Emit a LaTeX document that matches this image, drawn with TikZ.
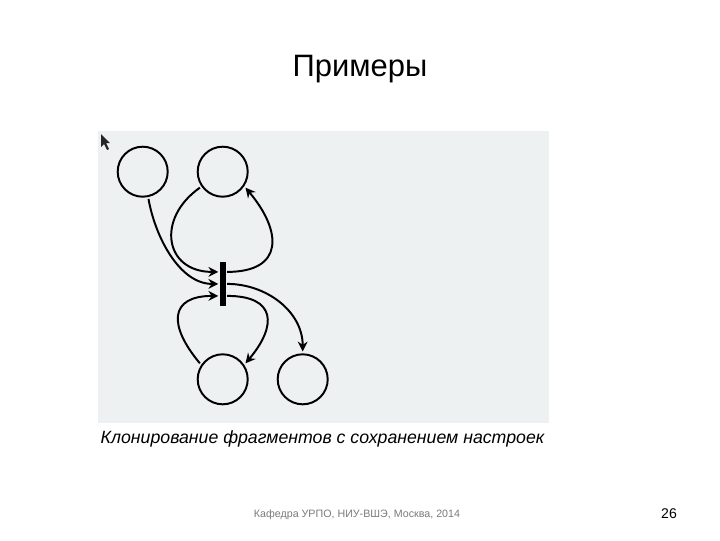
\documentclass[tikz,border=0pt]{standalone}
\usepackage{fontspec}
\setmainfont{Liberation Sans}
\usetikzlibrary{arrows.meta}
\definecolor{panelgray}{HTML}{EEF1F1}
\definecolor{footgray}{HTML}{7A7A7A}
\tikzset{
    place/.style={circle, draw, line width=1.4pt, minimum size=1.25cm, inner sep=0pt, outer sep=2pt},
    clonebar/.style={rectangle, fill=black, minimum width=0.15cm, minimum height=1.1cm, inner sep=0pt, outer sep=1pt},
    arc/.style={line width=1.4pt, -{Stealth[length=7pt, width=7pt]}}
}
\begin{document}
\begin{tikzpicture}[x=0.025cm, y=-0.025cm]
    % Fix the page to the slide size
    \useasboundingbox (0,0) rectangle (720,540);

    % Title
    \node (title) at (360,69) {\fontsize{22}{26}\selectfont Примеры};

    % Grey panel of the screenshot
    \fill[panelgray] (98,131) rectangle (549,423);

    % Mouse pointer in the corner
    \fill[black!85] (101,134) -- (101,147) -- (104,144) -- (107,150) -- (109,149) -- (106,143) -- (110,143) -- cycle;

    % Places and the clone bar
    \node[place] (topleft) at (142.7,171.7) {};
    \node[place] (topright) at (222.7,171.7) {};
    \node[place] (botleft) at (222.7,379.3) {};
    \node[place] (botright) at (302.7,379.3) {};
    \node[clonebar] (bar) at (222.7,283.9) {};

    % Ends on both sides of the bar
    \coordinate (inup) at ([yshift=0.3cm]bar.west);
    \coordinate (inlow) at ([yshift=-0.3cm]bar.west);
    \coordinate (outup) at ([yshift=0.3cm]bar.east);
    \coordinate (outlow) at ([yshift=-0.3cm]bar.east);

    % Arcs into the bar
    \draw[arc] (topleft.-78) to[out=-80, in=180, looseness=0.9] (bar.west);
    \draw[arc] (topright.215) to[out=215, in=180, looseness=1.6] (inup);
    \draw[arc] (botleft.145) to[out=130, in=180, looseness=1.8] (inlow);

    % Arcs out of the bar
    \draw[arc] (outup) to[out=0, in=-50, looseness=1.7] (topright.-35);
    \draw[arc] (outlow) to[out=0, in=50, looseness=1.8] (botleft.35);
    \draw[arc] (bar.east) to[out=0, in=90, looseness=1.0] (botright.north);

    % Caption under the panel
    \node (caption) at (322.5,439) {\fontsize{12.6}{15}\selectfont\itshape Клонирование фрагментов с сохранением настроек};

    % Footer and slide number
    \node[text=footgray] (footer) at (357,515) {\fontsize{7.6}{9}\selectfont Кафедра УРПО, НИУ-ВШЭ, Москва, 2014};
    \node (pagenum) at (669,514) {\fontsize{10}{12}\selectfont 26};
\end{tikzpicture}
\end{document}
